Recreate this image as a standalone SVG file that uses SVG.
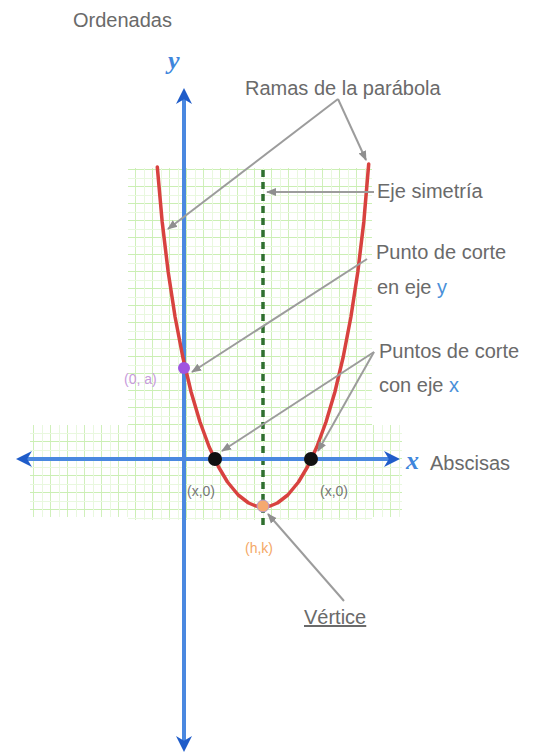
<svg xmlns="http://www.w3.org/2000/svg" width="533" height="756" viewBox="0 0 533 756">
<style>
.lbl{font-family:"Liberation Sans",Arial,sans-serif;font-size:20px;fill:#6a6a6a}
.small{font-family:"Liberation Sans",Arial,sans-serif;font-size:14px}
.axisname{font-family:"Liberation Serif","Times New Roman",serif;font-style:italic;font-weight:bold;fill:#3f86dc}
.blue{fill:#4a90d9}
.axis{stroke:#4a88e0;stroke-width:4;fill:none}
.conn{stroke:#9c9c9c;stroke-width:2;fill:none;marker-end:url(#garrow)}
</style>
<defs>
<pattern id="gridp" x="0" y="0" width="17" height="17" patternUnits="userSpaceOnUse">
<path d="M17 0 V17 M0 17 H17" stroke="#cbefb4" stroke-width="1.8" fill="none"/>
<path d="M8.5 0 V17 M0 8.5 H17" stroke="#e9f8df" stroke-width="1" fill="none"/>
</pattern>
<marker id="barrow" viewBox="0 0 10 10" refX="5" refY="5" markerWidth="4" markerHeight="4" orient="auto-start-reverse">
<path d="M0 0 L10 5 L0 10 L3 5 Z" fill="#1f5cc9"/>
</marker>
<marker id="garrow" viewBox="0 0 10 10" refX="9" refY="5" markerWidth="5" markerHeight="5" orient="auto">
<path d="M0 1 L10 5 L0 9 Z" fill="#8f8f8f"/>
</marker>
</defs>
<rect width="533" height="756" fill="#ffffff"/>

<g id="grid">
<rect x="128" y="168" width="244" height="352" fill="url(#gridp)"/>
<rect x="30" y="425" width="372" height="92" fill="url(#gridp)"/>
</g>

<g id="symmetry-axis">
<line x1="263" y1="170" x2="263" y2="530" stroke="#2f6f2f" stroke-width="3.5" stroke-dasharray="7 5"/>
</g>

<g id="axes">
<line class="axis" x1="184" y1="96" x2="184" y2="744" marker-start="url(#barrow)" marker-end="url(#barrow)"/>
<line class="axis" x1="24" y1="459" x2="392" y2="459" marker-start="url(#barrow)" marker-end="url(#barrow)"/>
</g>

<g id="parabola">
<polyline fill="none" stroke="#d8423f" stroke-width="3.5" stroke-linejoin="round" stroke-linecap="round" points="157.3,167 162.2,222 168.2,272 175.1,317 182.8,357 191.1,392 200,422 209.2,447 218.6,467 227.5,482 238.2,495 248.6,503 255.8,506 263,507 270.2,506 277.4,503 287.8,495 298.5,482 307.4,467 316.8,447 326,422 334.9,392 343.2,357 350.9,317 357.8,272 363.8,222 368.7,164"/>
</g>

<g id="connectors">
<polyline class="conn" points="338,99 168,229"/>
<polyline class="conn" points="338,99 366,160"/>
<line class="conn" x1="374" y1="192" x2="267" y2="192"/>
<line class="conn" x1="367" y1="259" x2="192" y2="372"/>
<line class="conn" x1="374" y1="352" x2="222" y2="451"/>
<line class="conn" x1="374" y1="352" x2="318" y2="451"/>
<line class="conn" x1="344" y1="601" x2="268" y2="514"/>
</g>

<g id="point-0a">
<circle cx="184" cy="368" r="6" fill="#a055e0"/>
<text class="small" x="124" y="384" fill="#c79bdc">(0, a)</text>
</g>
<g id="point-x1">
<circle cx="215" cy="459" r="7" fill="#111111"/>
<text class="small" x="187" y="496" fill="#777777">(x,0)</text>
</g>
<g id="point-x2">
<circle cx="311" cy="459" r="7" fill="#111111"/>
<text class="small" x="320" y="496" fill="#777777">(x,0)</text>
</g>
<g id="vertex">
<circle cx="263" cy="506" r="6" fill="#f5a970" stroke="#b59ad0" stroke-width="1"/>
<text class="small" x="245" y="553" fill="#f4a866">(h,k)</text>
</g>

<g id="label-ordenadas">
<text class="lbl" x="73" y="27" font-size="15">Ordenadas</text>
<text class="axisname" x="168" y="69" font-size="26">y</text>
</g>
<g id="label-abscisas">
<text class="axisname" x="406" y="469" font-size="26">x</text>
<text class="lbl" x="430" y="470">Abscisas</text>
</g>
<g id="label-ramas">
<text class="lbl" x="245" y="95">Ramas de la parábola</text>
</g>
<g id="label-eje">
<text class="lbl" x="377" y="198">Eje simetría</text>
</g>
<g id="label-corte-y">
<text class="lbl" x="376" y="259">Punto de corte</text>
<text class="lbl" x="377" y="294">en eje <tspan class="blue">y</tspan></text>
</g>
<g id="label-corte-x">
<text class="lbl" x="379" y="358">Puntos de corte</text>
<text class="lbl" x="379" y="392">con eje <tspan class="blue">x</tspan></text>
</g>
<g id="label-vertice">
<text class="lbl" x="304" y="624" font-size="21" text-decoration="underline">Vértice</text>
</g>
</svg>
